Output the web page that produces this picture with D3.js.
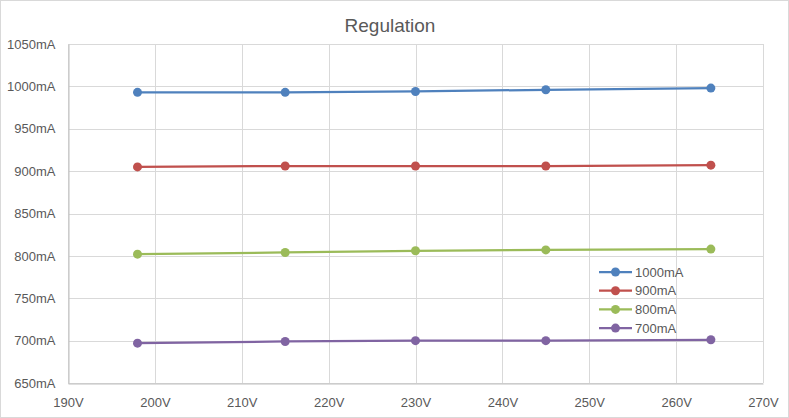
<!DOCTYPE html>
<html>
<head>
<meta charset="utf-8">
<script src="https://cdn.jsdelivr.net/npm/d3@7"></script>
<style>
  body { margin: 0; background: #fff; }
  text { font-family: "Liberation Sans", "DejaVu Sans", sans-serif; fill: #595959; }
</style>
</head>
<body>
<svg id="chart" width="789" height="418"></svg>
<script>
// data
var voltages = [198, 215, 230, 245, 264];
var seriesNames = ["1000mA", "900mA", "800mA", "700mA"];
var current1000 = [993, 993, 994, 996, 998];
var current900 = [905, 906, 906, 906, 907];
var current800 = [802, 804, 806, 807, 808];
var current700 = [697, 699, 700, 700, 701];
var xTicks = [190, 200, 210, 220, 230, 240, 250, 260, 270];
var yTicks = [650, 700, 750, 800, 850, 900, 950, 1000, 1050];
var colors = ["#4f81bd", "#c0504d", "#9bbb59", "#8064a2"];

var allSeries = [current1000, current900, current800, current700];

var svg = d3.select("#chart");
var W = 789, H = 418;
var plotLeft = 68, plotRight = 763, plotTop = 44, plotBottom = 383;

svg.append("rect")
    .attr("x", 0.5).attr("y", 0.5)
    .attr("width", W - 1).attr("height", H - 1)
    .attr("fill", "#fff")
    .attr("stroke", "#d9d9d9");

var x = d3.scaleLinear().domain([190, 270]).range([plotLeft, plotRight]);
var y = d3.scaleLinear().domain([650, 1050]).range([plotBottom, plotTop]);

// gridlines
svg.append("g")
    .selectAll("line")
    .data(yTicks)
  .enter().append("line")
    .attr("x1", plotLeft).attr("x2", plotRight)
    .attr("y1", function(d) { return Math.round(y(d)) + 0.5; })
    .attr("y2", function(d) { return Math.round(y(d)) + 0.5; })
    .attr("stroke", "#d9d9d9");

svg.append("g")
    .selectAll("line")
    .data(xTicks)
  .enter().append("line")
    .attr("y1", plotTop).attr("y2", plotBottom)
    .attr("x1", function(d) { return Math.round(x(d)) + 0.5; })
    .attr("x2", function(d) { return Math.round(x(d)) + 0.5; })
    .attr("stroke", "#d9d9d9");

// axes
var xAxis = svg.append("g")
    .attr("transform", "translate(0," + (Math.round(plotBottom) + 0.5) + ")")
    .call(d3.axisBottom(x).tickValues(xTicks).tickSize(0).tickPadding(14)
        .tickFormat(function(d) { return d + "V"; }));
xAxis.select(".domain").attr("stroke", "#bfbfbf");
xAxis.selectAll("text").style("font-size", "13px").attr("fill", "#595959");

var yAxis = svg.append("g")
    .attr("transform", "translate(" + (plotLeft + 0.5) + ",0)")
    .call(d3.axisLeft(y).tickValues(yTicks).tickSize(0).tickPadding(13)
        .tickFormat(function(d) { return d + "mA"; }));
yAxis.select(".domain").attr("stroke", "#bfbfbf");
yAxis.selectAll("text").style("font-size", "13px").attr("fill", "#595959");

// title
svg.append("text")
    .attr("x", 390).attr("y", 32)
    .style("text-anchor", "middle")
    .style("font-size", "19px")
    .text("Regulation");

// lines + markers
var line = d3.line()
    .x(function(d, i) { return x(voltages[i]); })
    .y(function(d) { return y(d); });

allSeries.forEach(function(s, k) {
  svg.append("path")
      .datum(s)
      .attr("fill", "none")
      .attr("stroke", colors[k])
      .attr("stroke-width", 2.25)
      .attr("d", line);
  svg.selectAll(null)
      .data(s)
    .enter().append("circle")
      .attr("cx", function(d, i) { return x(voltages[i]); })
      .attr("cy", function(d) { return y(d); })
      .attr("r", 4.5)
      .attr("fill", colors[k]);
});

// legend
var legend = svg.append("g").attr("transform", "translate(599,272)");
seriesNames.forEach(function(name, k) {
  var g = legend.append("g").attr("transform", "translate(0," + (k * 18.7) + ")");
  g.append("line").attr("x1", 0).attr("x2", 33).attr("y1", 0).attr("y2", 0)
      .attr("stroke", colors[k]).attr("stroke-width", 2.25);
  g.append("circle").attr("cx", 16.5).attr("cy", 0).attr("r", 4.5).attr("fill", colors[k]);
  g.append("text").attr("x", 36).attr("y", 4.5)
      .style("font-size", "13px")
      .text(name);
});
</script>
</body>
</html>
